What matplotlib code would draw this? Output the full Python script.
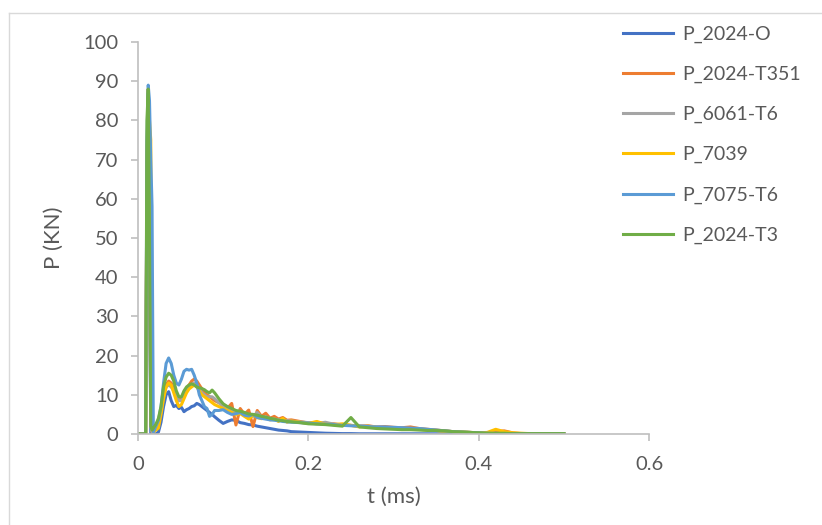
import numpy as np
import matplotlib
matplotlib.use("Agg")
import matplotlib.pyplot as plt
from matplotlib.lines import Line2D

plt.rcParams['font.family'] = ['Lato', 'DejaVu Sans']

# time grid (ms)
t = [0, 0.009, 0.0105, 0.012, 0.0135, 0.015, 0.0165,
     0.018, 0.021, 0.024, 0.027, 0.030, 0.033, 0.036, 0.039, 0.042, 0.045, 0.048, 0.051,
     0.054, 0.057, 0.060, 0.063, 0.066, 0.069, 0.072, 0.075, 0.078, 0.081, 0.084, 0.087, 0.090,
     0.095, 0.100, 0.105, 0.110, 0.115, 0.120, 0.125, 0.130, 0.135, 0.140, 0.145, 0.150,
     0.155, 0.160, 0.165, 0.170, 0.175, 0.180,
     0.19, 0.20, 0.21, 0.22, 0.23, 0.24, 0.25, 0.26, 0.27, 0.28, 0.29, 0.30, 0.31, 0.32,
     0.33, 0.34, 0.35, 0.36, 0.37, 0.38, 0.39, 0.40, 0.41, 0.42, 0.43, 0.44, 0.45, 0.46,
     0.47, 0.48, 0.49, 0.50]

p_2024_O = [0, 0, 60, 85, 40, 0, 0,
            0, 0, 0.5, 3, 7, 10, 10.8, 8.5, 7, 7.3, 6.5, 6.8,
            5.7, 6.2, 6.5, 7, 7.2, 7.8, 7.5, 7, 6.5, 6, 5.5, 5, 4.4,
            3.5, 2.7, 3.2, 3.6, 3.5, 2.9, 2.7, 2.4, 2.3, 2.0, 1.8, 1.6,
            1.4, 1.2, 1.0, 0.9, 0.8, 0.6,
            0.5, 0.4, 0.3, 0.2, 0.15, 0.1, 0.1, 0.05, 0.05, 0.05, 0.05, 0.05, 0.05, 0.05,
            0.05, 0.05, 0.05, 0.05, 0.05, 0.05, 0.05, 0.05, 0.05, 0.05, 0.05, 0.05, 0.05, 0.05,
            0.05, 0.05, 0.05, 0.05]

p_2024_T351 = [0, 0, 70, 88, 60, 3, 0.5,
               1, 2, 3, 6, 10, 12.5, 13.5, 13, 11.5, 10, 8.5, 9,
               10, 11.5, 12.5, 13.5, 14, 13.5, 12.5, 11.5, 10.5, 10, 9.5, 9, 8.5,
               8.0, 7.5, 6.5, 7.8, 2.3, 6.5, 5.0, 6.1, 1.9, 6.0, 4.5, 5.3,
               4.0, 4.5, 3.8, 4.2, 3.5, 3.6,
               3.2, 2.8, 3.0, 2.5, 2.6, 2.3, 2.2, 2.0, 2.1, 1.8, 1.9, 1.7, 1.6, 1.8,
               1.4, 1.2, 1.0, 0.8, 0.6, 0.5, 0.4, 0.3, 0.3, 0.6, 0.8, 0.3, 0.1, 0.1,
               0.1, 0.1, 0.1, 0.1]

p_6061_T6 = [0, 0, 70, 87, 55, 2, 0.5,
             1, 2, 3, 5.5, 9.5, 12, 12.5, 12, 11, 9.5, 8.5, 8.5,
             9.5, 11, 12, 12.5, 13, 12.5, 11.5, 10.5, 10, 9.5, 9.5, 9.5, 9,
             8.0, 7.0, 6.5, 6.0, 5.5, 5.5, 5.0, 4.8, 4.5, 5.5, 4.2, 4.4,
             4.0, 3.8, 3.6, 3.5, 3.4, 3.3,
             3.1, 2.9, 2.7, 3.0, 2.5, 2.3, 2.2, 2.1, 2.0, 1.8, 1.7, 1.6, 1.5, 1.4,
             1.3, 1.1, 1.0, 0.8, 0.6, 0.5, 0.4, 0.3, 0.2, 0.2, 0.1, 0.1, 0.1, 0.1,
             0.1, 0.1, 0.1, 0.1]

p_7039 = [0, 0, 65, 86, 80, 75, 2,
          0.5, 1, 1.5, 5, 9, 12, 13, 12.5, 10.5, 8.5, 7, 7.5,
          9, 10.5, 11.5, 12, 12.5, 12, 11, 10, 9.5, 9, 8.5, 8, 7.5,
          7.0, 6.5, 6.0, 5.5, 5.0, 5.2, 4.5, 3.8, 4.8, 4.2, 3.9, 4.2,
          3.6, 3.8, 3.2, 4.0, 3.0, 3.3,
          3.0, 2.7, 3.2, 2.5, 2.4, 2.6, 2.2, 1.8, 2.0, 1.7, 1.5, 1.6, 1.4, 1.3,
          1.2, 1.0, 0.9, 0.7, 0.6, 0.5, 0.4, 0.3, 0.4, 1.2, 0.6, 0.3, 0.2, 0.1,
          0.1, 0.1, 0.1, 0.1]

p_7075_T6 = [0, 0, 75, 89, 85, 70, 58,
             0.5, 2, 3.5, 7, 13, 18, 19.4, 18, 15, 13, 12.5, 14,
             16, 16.5, 16.3, 16.5, 15, 13, 10, 8.5, 7, 6.5, 4.5, 5, 6,
             6.0, 6.2, 5.5, 5.0, 5.2, 5.5, 4.8, 4.6, 5.0, 4.2, 4.0, 3.8,
             3.6, 3.5, 3.4, 3.2, 3.1, 3.0,
             2.9, 2.8, 2.6, 2.5, 2.4, 2.2, 2.1, 2.0, 1.9, 1.8, 1.8, 1.7, 1.6, 1.5,
             1.4, 1.2, 1.0, 0.8, 0.6, 0.5, 0.4, 0.3, 0.2, 0.1, 0.1, 0.1, 0.1, 0.1,
             0.1, 0.1, 0.1, 0.1]

p_2024_T3 = [0, 0, 80, 88, 50, 2, 1,
             1.5, 2.5, 4, 7, 12, 14.5, 15.5, 15, 13.5, 11, 9.5, 9.5,
             11, 12, 12.5, 12.8, 12.5, 12, 11.8, 11.6, 11.3, 10.8, 10.5, 11.2, 10.5,
             9.0, 7.7, 7.0, 6.5, 6.0, 5.8, 5.5, 5.1, 5.0, 4.8, 4.5, 4.3,
             4.0, 3.8, 3.5, 3.4, 3.2, 3.1,
             2.9, 2.6, 2.5, 2.4, 2.2, 2.0, 4.2, 1.8, 1.6, 1.4, 1.3, 1.2, 1.1, 1.1,
             1.0, 0.9, 0.9, 0.8, 0.6, 0.5, 0.4, 0.3, 0.2, 0.2, 0.2, 0.1, 0.1, 0.1,
             0.1, 0.1, 0.1, 0.1]

names = ['P_2024-O', 'P_2024-T351', 'P_6061-T6', 'P_7039', 'P_7075-T6', 'P_2024-T3']
series = [p_2024_O, p_2024_T351, p_6061_T6, p_7039, p_7075_T6, p_2024_T3]
colors = ['#4472C4', '#ED7D31', '#A5A5A5', '#FFC000', '#5B9BD5', '#70AD47']

fig = plt.figure(figsize=(8.22, 5.25), dpi=100)
ax = fig.add_axes([138/822, 1 - 434/525, 511/822, 392/525])

for y, name, c in zip(series, names, colors):
    ax.plot(t, y, color=c, lw=2.2, label=name)

ax.set_xlim(0, 0.6)
ax.set_ylim(0, 100)
ax.set_xticks([0, 0.2, 0.4, 0.6])
ax.set_xticklabels(['0', '0.2', '0.4', '0.6'])
ax.set_yticks(range(0, 101, 10))

grey = '#BFBFBF'
for s in ['top', 'right']:
    ax.spines[s].set_visible(False)
for s in ['left', 'bottom']:
    ax.spines[s].set_color(grey)
    ax.spines[s].set_linewidth(1.2)
ax.tick_params(colors=grey, labelcolor='#595959', labelsize=14.5, length=5, width=1.2)
ax.tick_params(axis='y', pad=9)
ax.tick_params(axis='x', pad=11)

ax.set_xlabel('t (ms)', fontsize=16, color='#595959', labelpad=10)
ax.set_ylabel('P (KN)', fontsize=16, color='#595959', labelpad=14)

ax.legend(loc='upper left', bbox_to_anchor=(605/822, 1 - 8/525),
          bbox_transform=fig.transFigure, frameon=False,
          fontsize=14, labelcolor='#595959', handlelength=2.6,
          labelspacing=1.18, handletextpad=0.45)

# chart area border
fig.add_artist(Line2D([9/822, 1], [1 - 13/525, 1 - 13/525], color='#D9D9D9', lw=1,
                      transform=fig.transFigure))
fig.add_artist(Line2D([9/822, 9/822], [0, 1 - 13/525], color='#D9D9D9', lw=1,
                      transform=fig.transFigure))

fig.savefig('out.png', dpi=100)
